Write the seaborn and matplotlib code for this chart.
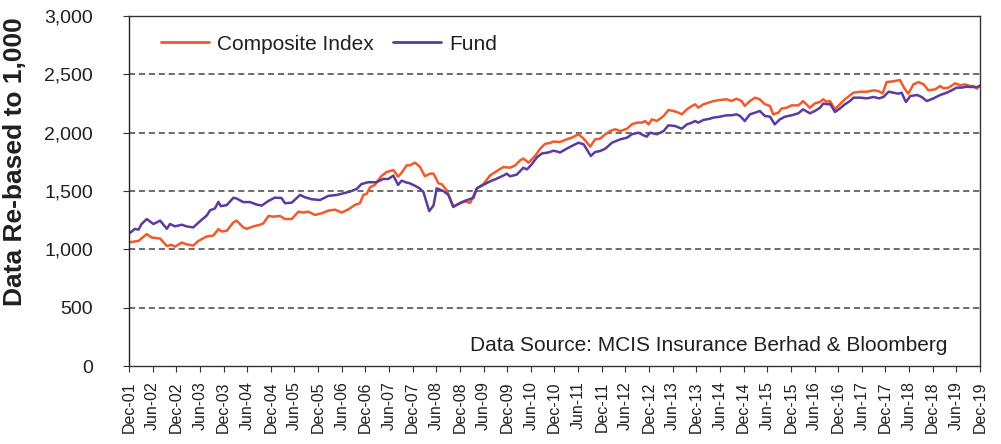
import numpy as np
import pandas as pd
import matplotlib
matplotlib.use("Agg")
import matplotlib.pyplot as plt
import seaborn as sns

# ---- data (months since Dec-01, value re-based to 1,000) ----
comp_month = [0.2, 2.4, 4.5, 5.8, 7.9, 9.6, 10.8, 11.7, 13.4, 14.6, 16.3, 17.6, 19.7, 21.4, 22.7, 23.5,
              24.8, 26.5, 27.3, 29.0, 29.9, 31.6, 33.2, 34.1, 35.4, 36.6, 38.3, 39.6, 41.3, 43.0, 44.2,
              45.5, 47.2, 48.9, 50.6, 52.3, 54.0, 55.7, 57.3, 58.6, 59.5, 60.3, 61.2, 62.4, 63.3, 64.1,
              65.4, 67.1, 68.3, 69.2, 70.5, 71.3, 72.6, 73.9, 75.1, 76.4, 77.3, 78.5, 79.4, 80.6, 82.3,
              83.6, 85.3, 86.6, 88.3, 90.0, 91.6, 93.3, 95.0, 96.7, 98.0, 99.3, 100.1, 101.4, 103.1,
              104.3, 105.6, 106.9, 107.7, 109.4, 111.1, 112.4, 114.1, 115.4, 117.1, 118.3, 119.6, 120.9,
              122.1, 123.4, 124.7, 126.4, 127.6, 128.9, 130.2, 131.0, 131.9, 132.7, 134.0, 135.7, 136.9,
              138.2, 139.5, 140.3, 141.6, 142.9, 143.7, 144.5, 145.8, 147.1, 148.3, 150.0, 151.7, 152.9,
              154.2, 155.5, 156.3, 157.6, 158.9, 160.1, 161.4, 162.7, 163.5, 164.8, 165.6, 166.9, 168.2,
              169.9, 171.1, 172.8, 174.1, 175.4, 176.2, 177.0, 177.9, 179.2, 180.4, 181.7, 183.0, 183.9,
              185.6, 187.3, 189.0, 190.2, 191.3, 192.3, 194.0, 195.7, 196.7, 197.8, 199.1, 200.4, 201.7,
              202.9, 204.6, 205.9, 206.7, 208.0, 209.7, 211.0, 212.2, 213.5, 214.3, 215.2, 216.0]
comp_value = [1061, 1072, 1130, 1101, 1092, 1029, 1038, 1023, 1058, 1043, 1032, 1072, 1110, 1118, 1173, 1153,
              1159, 1231, 1246, 1188, 1176, 1197, 1210, 1223, 1286, 1280, 1286, 1260, 1260, 1323, 1315,
              1323, 1295, 1309, 1332, 1340, 1315, 1343, 1380, 1395, 1466, 1475, 1532, 1552, 1595, 1629,
              1663, 1680, 1623, 1657, 1720, 1720, 1743, 1705, 1626, 1649, 1649, 1567, 1558, 1509, 1368,
              1386, 1412, 1398, 1523, 1561, 1632, 1670, 1705, 1700, 1719, 1763, 1778, 1743, 1801,
              1860, 1904, 1912, 1924, 1920, 1943, 1957, 1986, 1949, 1880, 1943, 1949, 1986,
              2014, 2029, 2014, 2034, 2071, 2086, 2086, 2100, 2071, 2114, 2100, 2143, 2194,
              2186, 2171, 2157, 2200, 2229, 2243, 2214, 2243, 2257, 2271, 2280, 2286, 2271,
              2291, 2271, 2229, 2271, 2300, 2286, 2243, 2229, 2157, 2171, 2206, 2214, 2234,
              2234, 2271, 2214, 2251, 2263, 2286, 2266, 2271, 2200, 2243, 2286, 2320, 2343,
              2351, 2351, 2363, 2357, 2337, 2434, 2440, 2451, 2386, 2334, 2414, 2434, 2414,
              2363, 2371, 2400, 2380, 2386, 2423, 2406, 2414, 2400, 2400, 2377, 2406]

fund_month = [0.2, 1.5, 2.4, 3.2, 4.5, 6.2, 7.9, 9.6, 10.4, 11.7, 13.4, 14.6, 16.3, 18.0, 19.7, 20.6, 21.8,
              22.7, 23.3, 24.8, 26.5, 27.3, 29.0, 30.7, 32.4, 33.7, 35.4, 37.0, 38.7, 39.6, 41.3, 43.4,
              44.7, 46.4, 48.5, 50.6, 52.7, 54.4, 56.1, 57.8, 59.0, 60.7, 62.8, 64.5, 65.8, 67.1, 68.3,
              69.2, 70.5, 71.3, 73.5, 74.7, 76.2, 77.3, 78.1, 79.8, 81.1, 82.3, 84.0, 85.7, 87.4, 88.3,
              90.0, 91.6, 93.3, 95.0, 95.9, 96.7, 98.4, 100.1, 101.0, 102.2, 103.5, 104.8, 106.4, 107.7,
              108.6, 109.4, 111.1, 112.4, 114.1, 115.4, 116.2, 117.2, 118.3, 119.6, 120.9, 122.6, 124.7,
              126.4, 127.6, 129.3, 130.6, 131.4, 132.3, 134.0, 135.7, 136.9, 138.6, 140.3, 141.6, 142.9,
              143.7, 144.5, 145.8, 147.5, 148.3, 150.0, 151.7, 152.9, 154.2, 155.1, 156.3, 157.6, 158.9,
              160.1, 161.4, 162.7, 163.9, 165.2, 166.5, 168.2, 169.9, 171.1, 172.8, 174.1, 175.4, 176.2,
              177.5, 177.9, 179.2, 180.4, 181.7, 183.0, 183.9, 185.6, 187.3, 189.0, 190.4, 191.5, 192.8,
              194.0, 195.3, 196.1, 197.2, 198.3, 200.0, 201.2, 202.5, 204.2, 205.9, 207.6, 208.8, 210.1,
              211.4, 212.6, 213.9, 215.2, 216.0]
fund_value = [1139, 1176, 1168, 1217, 1260, 1217, 1246, 1176, 1217, 1197, 1211, 1197, 1188, 1240, 1289, 1335, 1350,
              1407, 1370, 1379, 1442, 1436, 1405, 1405, 1384, 1375, 1415, 1443, 1440, 1395, 1400, 1466,
              1446, 1429, 1423, 1458, 1466, 1480, 1495, 1518, 1560, 1575, 1575, 1603, 1603, 1632, 1552,
              1589, 1572, 1566, 1529, 1494, 1327, 1377, 1523, 1500, 1465, 1363, 1398, 1421, 1440, 1523,
              1553, 1582, 1605, 1632, 1649, 1626, 1640, 1699, 1685, 1728, 1787, 1822, 1830, 1845,
              1839, 1830, 1863, 1886, 1914, 1900, 1857, 1800, 1834, 1843, 1863, 1914, 1943,
              1957, 1986, 2000, 1977, 1966, 2000, 1986, 2014, 2063, 2057, 2034, 2071, 2086,
              2100, 2086, 2109, 2120, 2129, 2137, 2149, 2149, 2157, 2143, 2100, 2157, 2171,
              2186, 2143, 2137, 2071, 2114, 2137, 2149, 2166, 2200, 2166, 2186, 2214, 2249,
              2243, 2249, 2177, 2206, 2243, 2271, 2300, 2300, 2294, 2306, 2294, 2306, 2351,
              2343, 2334, 2343, 2263, 2314, 2323, 2306, 2271, 2294, 2323, 2343, 2363, 2386,
              2386, 2394, 2391, 2391, 2400]

series_names = ["Composite Index", "Fund"]
tick_months = list(range(0, 217, 6))
tick_labels = ["Dec-01", "Jun-02", "Dec-02", "Jun-03", "Dec-03", "Jun-04", "Dec-04", "Jun-05", "Dec-05",
               "Jun-06", "Dec-06", "Jun-07", "Dec-07", "Jun-08", "Dec-08", "Jun-09", "Dec-09", "Jun-10",
               "Dec-10", "Jun-11", "Dec-11", "Jun-12", "Dec-12", "Jun-13", "Dec-13", "Jun-14", "Dec-14",
               "Jun-15", "Dec-15", "Jun-16", "Dec-16", "Jun-17", "Dec-17", "Jun-18", "Dec-18", "Jun-19",
               "Dec-19"]
y_ticks = [0, 500, 1000, 1500, 2000, 2500, 3000]
y_tick_labels = ["0", "500", "1,000", "1,500", "2,000", "2,500", "3,000"]

# ---- build long-form table ----
df = pd.concat([
    pd.DataFrame({"month": comp_month, "value": comp_value, "series": series_names[0]}),
    pd.DataFrame({"month": fund_month, "value": fund_value, "series": series_names[1]}),
], ignore_index=True)

sns.set_theme(style="white")
plt.rcParams["font.family"] = ["Liberation Sans", "DejaVu Sans"]

W, H = 1001, 444
fig = plt.figure(figsize=(W / 100, H / 100), dpi=100)
left, right, top, bottom = 129, 980, 16, 366
ax = fig.add_axes([left / W, 1 - bottom / H, (right - left) / W, (bottom - top) / H])

palette = {"Composite Index": "#F15A2B", "Fund": "#5A3B9E"}
sns.lineplot(data=df, x="month", y="value", hue="series", palette=palette,
             hue_order=series_names, estimator=None, sort=True, linewidth=1.8, ax=ax)

ax.set_xlim(0, 216)
ax.set_ylim(0, 3000)
ax.set_yticks(y_ticks)
ax.set_yticklabels(y_tick_labels, fontsize=14, color="#231f20")
ax.set_xticks(tick_months)
ax.set_xticklabels(tick_labels, rotation=90, fontsize=11.5, color="#231f20")
ax.tick_params(axis="y", direction="out", length=4, width=0.8, color="#333333", pad=22, left=True)
ax.tick_params(axis="x", direction="out", length=4, width=0.8, color="#333333", pad=7, bottom=True)

for y in y_ticks[1:-1]:
    ax.axhline(y, color="#444444", linestyle=(0, (4, 2.5)), linewidth=1.1, zorder=0)

for s in ax.spines.values():
    s.set_visible(True)
    s.set_color("#333333")
    s.set_linewidth(1.0)
ax.spines["left"].set_color("#222222")

ax.set_xlabel("")
ax.set_ylabel("Data Re-based to 1,000", fontsize=19, fontweight="bold", color="#231f20")
ax.yaxis.set_label_coords(-0.12, 0.585)

handles, labels = ax.get_legend_handles_labels()
ax.legend(handles, labels, loc="center left", bbox_to_anchor=(0.0376, 0.92), ncol=2,
          frameon=False, fontsize=15, handlelength=2.3, handletextpad=0.4, columnspacing=0.9,
          borderpad=0, borderaxespad=0, labelcolor="#231f20")
for line in ax.get_legend().get_lines():
    line.set_linewidth(2.0)

ax.text(0.962, 0.06, "Data Source: MCIS Insurance Berhad & Bloomberg", transform=ax.transAxes,
        ha="right", va="center", fontsize=15, color="#231f20")

fig.savefig("out.png", dpi=100)
